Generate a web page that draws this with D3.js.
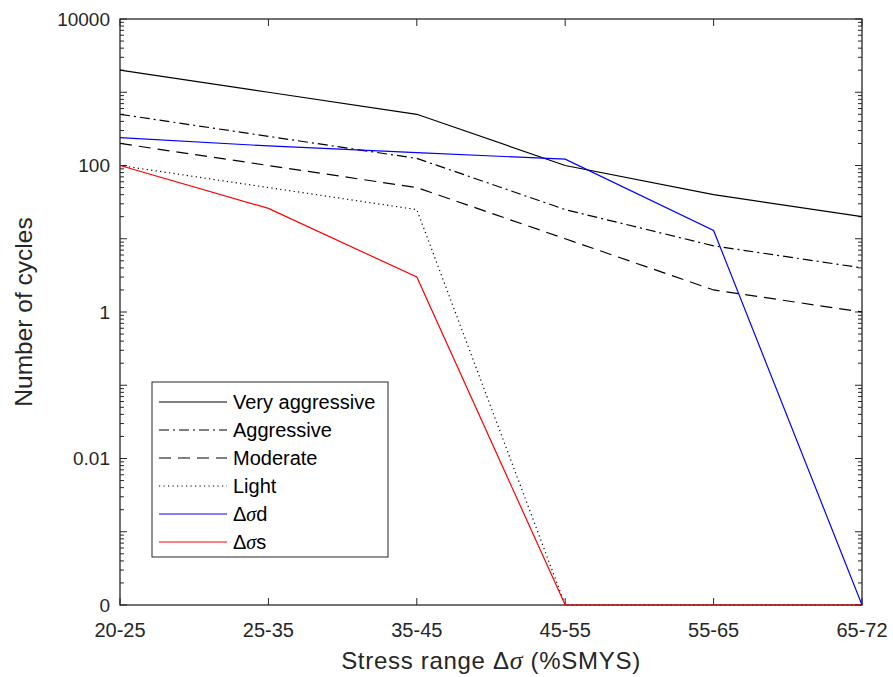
<!DOCTYPE html>
<html><head><meta charset="utf-8">
<script src="https://cdn.jsdelivr.net/npm/d3@7"></script>
<style>body{margin:0;background:#fff}text{font-family:"Liberation Sans",Arial,sans-serif}</style>
</head><body>
<script>
const categories = ["20-25","25-35","35-45","45-55","55-65","65-72"];
const ZERO = 1e-4; // shown as "0" on log axis
const veryAggressive = [2000, 1000, 500, 100, 40, 20];
const aggressive = [500, 250, 125, 25, 8, 4];
const moderate = [200, 100, 50, 10, 2, 1];
const light = [100, 50, 25, ZERO, ZERO, ZERO];
const dsd = [240, 185, 150, 122, 13, ZERO];
const dss = [100, 26, 3, ZERO, ZERO, ZERO];
const yTickValues = [1e-4, 1e-2, 1, 100, 10000];
const yTickLabels = ["0", "0.01", "1", "100", "10000"];
const seriesNames = ["Very aggressive","Aggressive","Moderate","Light","\u0394\u03C3d","\u0394\u03C3s"];

const series = [
  {name: seriesNames[0], values: veryAggressive, color:"#000", dash:null},
  {name: seriesNames[1], values: aggressive, color:"#000", dash:"10,4,2,4"},
  {name: seriesNames[2], values: moderate, color:"#000", dash:"12,7"},
  {name: seriesNames[3], values: light, color:"#000", dash:"1.2,3.3"},
  {name: seriesNames[4], values: dsd, color:"#0000ff", dash:null},
  {name: seriesNames[5], values: dss, color:"#ff0000", dash:null}
];

const W = 893, H = 677;
const m = {left:120, right:31, top:19, bottom:72};
const iw = W - m.left - m.right, ih = H - m.top - m.bottom;

const svg = d3.select("body").append("svg").attr("width", W).attr("height", H);
const g = svg.append("g").attr("transform", `translate(${m.left},${m.top})`);

const x = d3.scalePoint().domain(categories).range([0, iw]);
const y = d3.scaleLog().domain([1e-4, 1e4]).range([ih, 0]);

const minor = [];
for (let e = -4; e < 4; e++) for (let k = 2; k <= 9; k++) minor.push(k * Math.pow(10, e));

const ax = g.append("g").attr("fill","none").attr("stroke","#262626").attr("stroke-width",1);
g.append("rect").attr("x",0).attr("y",0).attr("width",iw).attr("height",ih)
  .attr("fill","none").attr("stroke","#262626").attr("stroke-width",1.3);

const majorY = d3.range(-4, 5).map(e => Math.pow(10, e));
majorY.forEach(v => {
  ax.append("line").attr("x1",0).attr("x2",7).attr("y1",y(v)).attr("y2",y(v));
  ax.append("line").attr("x1",iw).attr("x2",iw-7).attr("y1",y(v)).attr("y2",y(v));
});
minor.forEach(v => {
  ax.append("line").attr("x1",0).attr("x2",4).attr("y1",y(v)).attr("y2",y(v));
  ax.append("line").attr("x1",iw).attr("x2",iw-4).attr("y1",y(v)).attr("y2",y(v));
});
categories.forEach(c => {
  ax.append("line").attr("x1",x(c)).attr("x2",x(c)).attr("y1",ih).attr("y2",ih-7);
  ax.append("line").attr("x1",x(c)).attr("x2",x(c)).attr("y1",0).attr("y2",7);
});

yTickValues.forEach((v,i) => {
  g.append("text").attr("x",-10).attr("y",y(v)).attr("dy","0.36em")
    .attr("text-anchor","end").attr("font-size",19).attr("fill","#262626").text(yTickLabels[i]);
});
categories.forEach(c => {
  g.append("text").attr("x",x(c)).attr("y",ih+32).attr("text-anchor","middle")
    .attr("font-size",20).attr("fill","#262626").text(c);
});

const line = d3.line().x((d,i) => x(categories[i])).y(d => y(d));
series.forEach(s => {
  g.append("path").datum(s.values).attr("d", line).attr("fill","none")
    .attr("stroke", s.color).attr("stroke-width",1.2)
    .attr("stroke-dasharray", s.dash);
});

const xl = svg.append("text").attr("x", m.left + iw/2).attr("y", 669).attr("text-anchor","middle")
  .attr("font-size",24).attr("letter-spacing","0.7px").attr("fill","#262626");
xl.append("tspan").text("Stress range \u0394");
xl.append("tspan").attr("font-style","italic").attr("font-family","Liberation Serif, serif").attr("font-size",26).text("\u03C3");
xl.append("tspan").text(" (%SMYS)");

svg.append("text").attr("transform",`translate(32,${m.top+ih/2}) rotate(-90)`)
  .attr("text-anchor","middle").attr("font-size",24.5).attr("fill","#262626").text("Number of cycles");

const lg = svg.append("g").attr("transform","translate(152,382)");
lg.append("rect").attr("x",0).attr("y",0).attr("width",236).attr("height",175)
  .attr("fill","#fff").attr("stroke","#262626").attr("stroke-width",1);
series.forEach((s,i) => {
  const yy = 20 + i*28;
  lg.append("line").attr("x1",7).attr("x2",75).attr("y1",yy).attr("y2",yy)
    .attr("stroke",s.color).attr("stroke-width",1.2).attr("stroke-dasharray",s.dash);
  const t = lg.append("text").attr("x",81).attr("y",yy).attr("dy","0.36em")
    .attr("font-size",20).attr("fill","#000");
  if (i < 4) t.text(s.name);
  else {
    t.append("tspan").text("\u0394");
    t.append("tspan").attr("font-style","italic").attr("font-family","Liberation Serif, serif").text("\u03C3");
    t.append("tspan").text(i===4 ? "d" : "s");
  }
});
</script>
</body></html>
